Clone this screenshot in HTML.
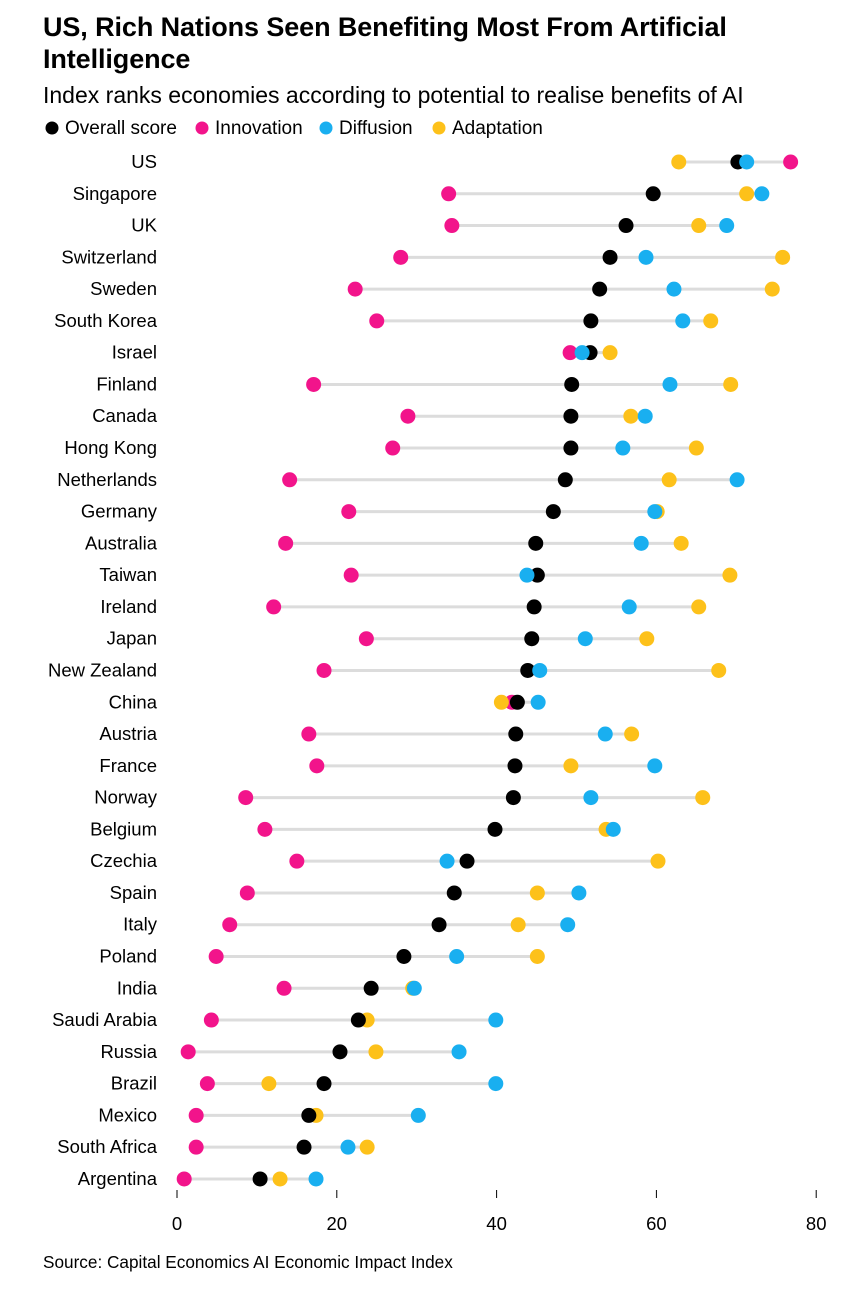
<!DOCTYPE html>
<html><head><meta charset="utf-8">
<style>
body{margin:0;background:#fff;font-family:"Liberation Sans",Arial,sans-serif;}
#wrap{position:relative;width:862px;height:1300px;overflow:hidden;}
h1{position:absolute;left:43px;top:11px;margin:0;font-size:27px;line-height:32px;font-weight:bold;color:#000;letter-spacing:-0.1px;width:760px;}
.sub{position:absolute;left:43px;top:82px;font-size:23px;color:#000;}
.src{position:absolute;left:43px;top:1252px;font-size:17.2px;color:#000;}
</style></head><body>
<div id="wrap">
<h1>US, Rich Nations Seen Benefiting Most From Artificial Intelligence</h1>
<div class="sub">Index ranks economies according to potential to realise benefits of AI</div>
<svg id="chart" width="862" height="1300" style="position:absolute;left:0;top:0"></svg>
<div class="src">Source: Capital Economics AI Economic Impact Index</div>
</div>
<script>
const countries=["US","Singapore","UK","Switzerland","Sweden","South Korea","Israel","Finland","Canada","Hong Kong","Netherlands","Germany","Australia","Taiwan","Ireland","Japan","New Zealand","China","Austria","France","Norway","Belgium","Czechia","Spain","Italy","Poland","India","Saudi Arabia","Russia","Brazil","Mexico","South Africa","Argentina"];
const overall=[70.2,59.6,56.2,54.2,52.9,51.8,51.7,49.4,49.3,49.3,48.6,47.1,44.9,45.1,44.7,44.4,43.9,42.6,42.4,42.3,42.1,39.8,36.3,34.7,32.8,28.4,24.3,22.7,20.4,18.4,16.5,15.9,10.4];
const innovation=[76.8,34,34.4,28,22.3,25,49.2,17.1,28.9,27,14.1,21.5,13.6,21.8,12.1,23.7,18.4,41.9,16.5,17.5,8.6,11,15,8.8,6.6,4.9,13.4,4.3,1.4,3.8,2.4,2.4,0.9];
const diffusion=[71.3,73.2,68.8,58.7,62.2,63.3,50.7,61.7,58.6,55.8,70.1,59.8,58.1,43.8,56.6,51.1,45.4,45.2,53.6,59.8,51.8,54.6,33.8,50.3,48.9,35,29.7,39.9,35.3,39.9,30.2,21.4,17.4];
const adaptation=[62.8,71.3,65.3,75.8,74.5,66.8,54.2,69.3,56.8,65,61.6,60.1,63.1,69.2,65.3,58.8,67.8,40.6,56.9,49.3,65.8,53.7,60.2,45.1,42.7,45.1,29.5,23.8,24.9,11.5,17.4,23.8,12.9];
const ticks=[0,20,40,60,80];
const NS="http://www.w3.org/2000/svg";
const svg=document.getElementById('chart');
const x=v=>177+v*7.99;
const y=i=>162+i*31.78;
function mk(t,a){const e=document.createElementNS(NS,t);for(const k in a)e.setAttribute(k,a[k]);svg.appendChild(e);return e;}
const leg=[["Overall score","#000"],["Innovation","#f2148b"],["Diffusion","#19aff0"],["Adaptation","#fdc11a"]];
const lxs=[45,195,319,432];
leg.forEach((l,k)=>{
 const lx=lxs[k];
 const c=mk('circle',{cx:lx+7,cy:128,r:6.5,fill:l[1]});
 
 
 const t=mk('text',{x:lx+20,y:134,'font-size':19,fill:'#000'});t.textContent=l[0];
 
 
});
countries.forEach((c,i)=>{
 const vals=[overall[i],innovation[i],diffusion[i],adaptation[i]];
 const lab=mk('text',{x:157,y:y(i)+6,'text-anchor':'end','font-size':18.5,fill:'#000'});lab.textContent=c;
 
 
 const ln=mk('line',{x1:x(Math.min(...vals)),x2:x(Math.max(...vals)),y1:y(i),y2:y(i),stroke:'#dcdcdc','stroke-width':3});
 
 
 [[innovation,'#f2148b','innovation'],[adaptation,'#fdc11a','adaptation'],[overall,'#000','overall'],[diffusion,'#19aff0','diffusion']].forEach(s=>{
  const d=mk('circle',{cx:x(s[0][i]),cy:y(i),r:7.5,fill:s[1]});
  
  
 });
});
ticks.forEach(t=>{
 const tk=mk('line',{x1:x(t),x2:x(t),y1:1190,y2:1198,stroke:'#000','stroke-width':1});
 
 
 const tl=mk('text',{x:x(t),y:1230,'text-anchor':'middle','font-size':18.5,fill:'#000'});tl.textContent=t;
 
 
});
</script>
</body></html>
